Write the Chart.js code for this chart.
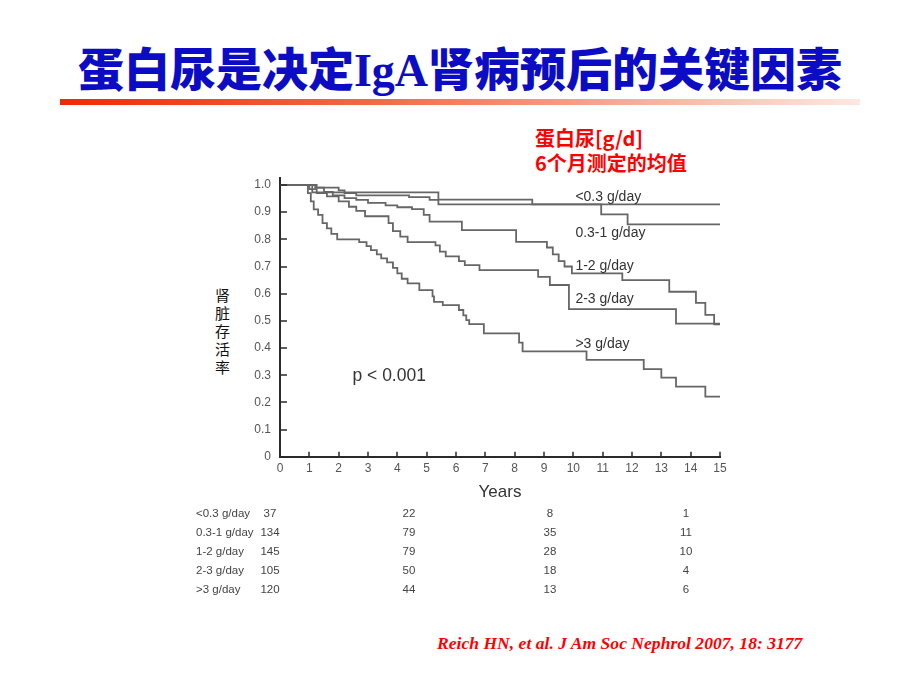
<!DOCTYPE html>
<html>
<head>
<meta charset="utf-8">
<script src="https://cdn.jsdelivr.net/npm/chart.js@4"></script>
<style>
  body { margin: 0; width: 920px; height: 690px; background: #fff; position: relative; overflow: hidden; font-family: "Liberation Sans", Arial, sans-serif; }
  #title { position: absolute; left: 0; top: 36px; width: 920px; text-align: center; white-space: nowrap;
           font: 900 46px/60px "Noto Sans CJK SC", sans-serif; color: #0c0cc4; }
  #title .lat { font-family: "Liberation Serif", serif; font-weight: bold; }
  #rule { position: absolute; left: 60px; top: 99px; width: 800px; height: 6px;
          background: linear-gradient(to right, #ee2a08, #f36a46 40%, #f8b4a0 75%, #fde8e2); }
  #note { position: absolute; left: 535px; top: 125px; color: #ff0000; font: bold 20px/25px "Noto Sans CJK SC", sans-serif; }
  #ylab { position: absolute; left: 215px; top: 286px; width: 16px; color: #111; font: 15px/18px "Noto Sans CJK SC", sans-serif; }
  #chart { position: absolute; left: 200px; top: 170px; }
  .risk { position: absolute; color: #444; font-size: 11.5px; line-height: 14px; white-space: nowrap; }
  #cite { position: absolute; left: 437px; top: 631px; color: #ff0000; font: italic bold 17.6px/24px "Liberation Serif", serif; white-space: nowrap; }
</style>
</head>
<body>
<div id="title">蛋白尿是决定<span class="lat">IgA</span>肾病预后的关键因素</div>
<div id="rule"></div>
<div id="note">蛋白尿[g/d]<br>6个月测定的均值</div>
<div id="ylab">肾<br>脏<br>存<br>活<br>率</div>
<canvas id="chart" width="540" height="340"></canvas>
<div id="risk"></div>
<div id="cite">Reich HN, et al. J Am Soc Nephrol 2007, 18: 3177</div>

<script>
// proteinuria groups
const groups = ["<0.3 g/day", "0.3-1 g/day", "1-2 g/day", "2-3 g/day", ">3 g/day"];

// Kaplan-Meier steps: year of each drop and survival after it
const yrsLt03 = [0, 1.1, 5.4, 8.6, 15];
const survLt03 = [1, 0.973, 0.946, 0.929, 0.929];

const yrs03to1 = [0, 1.25, 2.0, 2.2, 2.6, 4.4, 5.1, 5.4, 10.95, 11.85, 15];
const surv03to1 = [1, 0.99, 0.98, 0.97, 0.962, 0.955, 0.945, 0.929, 0.892, 0.855, 0.855];

const yrs1to2 = [0, 1.2, 1.5, 1.8, 2.2, 2.6, 3.0, 3.6, 4.0, 4.5, 4.9, 5.1, 6.2, 8.05, 9.1, 9.3, 9.5, 9.7, 9.95, 11.67, 13.27, 14.18, 14.5, 14.8, 15];
const surv1to2 = [1, 0.99, 0.975, 0.962, 0.952, 0.945, 0.934, 0.925, 0.918, 0.911, 0.89, 0.865, 0.834, 0.791, 0.77, 0.745, 0.72, 0.70, 0.675, 0.65, 0.607, 0.566, 0.522, 0.487, 0.487];

const yrs2to3 = [0, 1.0, 1.25, 1.6, 2.0, 2.35, 2.6, 2.9, 3.7, 3.85, 4.1, 4.35, 5.3, 5.45, 5.65, 6.1, 6.3, 6.8, 8.8, 9.2, 9.85, 13.5, 15];
const surv2to3 = [1, 0.985, 0.97, 0.958, 0.94, 0.92, 0.905, 0.885, 0.86, 0.83, 0.81, 0.79, 0.778, 0.755, 0.737, 0.72, 0.705, 0.687, 0.662, 0.632, 0.543, 0.49, 0.49];

const yrsGt3 = [0, 0.95, 1.05, 1.15, 1.3, 1.45, 1.6, 1.75, 1.95, 2.7, 2.95, 3.1, 3.3, 3.45, 3.65, 3.85, 4.0, 4.15, 4.35, 4.75, 5.2, 5.25, 5.55, 6.1, 6.25, 6.35, 6.45, 6.95, 8.15, 8.27, 10.45, 12.4, 13.0, 13.5, 14.5, 15];
const survGt3 = [1, 0.97, 0.94, 0.91, 0.89, 0.86, 0.84, 0.82, 0.80, 0.79, 0.775, 0.76, 0.745, 0.73, 0.715, 0.695, 0.675, 0.655, 0.638, 0.613, 0.59, 0.57, 0.558, 0.54, 0.52, 0.503, 0.488, 0.454, 0.42, 0.388, 0.356, 0.322, 0.291, 0.258, 0.221, 0.221];

const xTicks = [0, 1, 2, 3, 4, 5, 6, 7, 8, 9, 10, 11, 12, 13, 14, 15];
const yTicks = [0, 0.1, 0.2, 0.3, 0.4, 0.5, 0.6, 0.7, 0.8, 0.9, 1.0];

// numbers at risk at years 0, 5, 10, 15
const riskLt03 = [37, 22, 8, 1];
const risk03to1 = [134, 79, 35, 11];
const risk1to2 = [145, 79, 28, 10];
const risk2to3 = [105, 50, 18, 4];
const riskGt3 = [120, 44, 13, 6];

const series = [
  [yrsLt03, survLt03], [yrs03to1, surv03to1], [yrs1to2, surv1to2], [yrs2to3, surv2to3], [yrsGt3, survGt3]
];
const riskRows = [riskLt03, risk03to1, risk1to2, risk2to3, riskGt3];

// where the group names sit inside the plot (year, survival)
const labelAt = [[10.07, 0.957], [10.07, 0.822], [10.07, 0.703], [10.07, 0.579], [10.07, 0.414]];

const overlay = {
  id: "overlay",
  afterDraw(chart) {
    const { ctx, chartArea: a, scales: { x, y } } = chart;
    ctx.save();
    ctx.strokeStyle = "#2a2a2a";
    ctx.lineWidth = 1.5;
    ctx.beginPath();
    yTicks.forEach(v => {
      const py = Math.round(y.getPixelForValue(v));
      ctx.moveTo(a.left, py); ctx.lineTo(a.left + 7, py);
    });
    xTicks.forEach(v => {
      const px = Math.round(x.getPixelForValue(v));
      ctx.moveTo(px, a.bottom); ctx.lineTo(px, a.bottom - 5);
    });
    ctx.stroke();

    ctx.fillStyle = "#333";
    ctx.textAlign = "left";
    ctx.textBaseline = "middle";
    ctx.font = '14px "Liberation Sans", Arial, sans-serif';
    groups.forEach((g, i) => {
      ctx.fillText(g, x.getPixelForValue(labelAt[i][0]), y.getPixelForValue(labelAt[i][1]));
    });
    ctx.font = '17.5px "Liberation Sans", Arial, sans-serif';
    ctx.fillText("p < 0.001", x.getPixelForValue(2.47), y.getPixelForValue(0.297));
    ctx.restore();
  }
};

new Chart(document.getElementById("chart"), {
  type: "line",
  data: {
    datasets: series.map(([t, s], i) => ({
      label: groups[i],
      data: t.map((v, j) => ({ x: v, y: s[j] })),
      stepped: true,
      borderColor: "#666",
      borderWidth: 1.8,
      pointRadius: 0,
      fill: false,
    })),
  },
  options: {
    responsive: false,
    animation: false,
    layout: { padding: { top: 8.2, right: 20, left: 0, bottom: 0 } },
    plugins: { legend: { display: false }, tooltip: { enabled: false } },
    scales: {
      x: {
        type: "linear",
        min: 0,
        max: 15,
        afterBuildTicks: s => { s.ticks = xTicks.map(v => ({ value: v })); },
        afterFit: s => { s.height = 53.3; },
        ticks: { color: "#555", font: { size: 12 }, padding: 5, maxRotation: 0, autoSkip: false },
        grid: { display: false, drawTicks: false },
        border: { display: true, color: "#2a2a2a", width: 2 },
        title: { display: true, text: "Years", color: "#333", font: { size: 17 }, padding: { top: 0, bottom: 7 } },
      },
      y: {
        min: 0,
        max: 1.025,
        afterBuildTicks: s => { s.ticks = yTicks.map(v => ({ value: v })); },
        afterFit: s => { s.width = 80; s.paddingTop = 0; },
        ticks: { color: "#555", font: { size: 12 }, padding: 9, callback: v => (v === 0 ? "0" : v.toFixed(1)) },
        grid: { display: false, drawTicks: false },
        border: { display: true, color: "#2a2a2a", width: 2 },
      },
    },
  },
  plugins: [overlay],
});

// numbers-at-risk table under the plot
const riskBox = document.getElementById("risk");
const rowTop = [513, 532, 551, 570, 589];
const colCenter = [270, 409, 550, 686];
groups.forEach((g, i) => {
  const name = document.createElement("div");
  name.className = "risk";
  name.style.left = "196px";
  name.style.top = (rowTop[i] - 7) + "px";
  name.textContent = g;
  riskBox.appendChild(name);
  riskRows[i].forEach((n, j) => {
    const cell = document.createElement("div");
    cell.className = "risk";
    cell.style.left = (colCenter[j] - 20) + "px";
    cell.style.width = "40px";
    cell.style.textAlign = "center";
    cell.style.top = (rowTop[i] - 7) + "px";
    cell.textContent = n;
    riskBox.appendChild(cell);
  });
});
</script>
</body>
</html>
